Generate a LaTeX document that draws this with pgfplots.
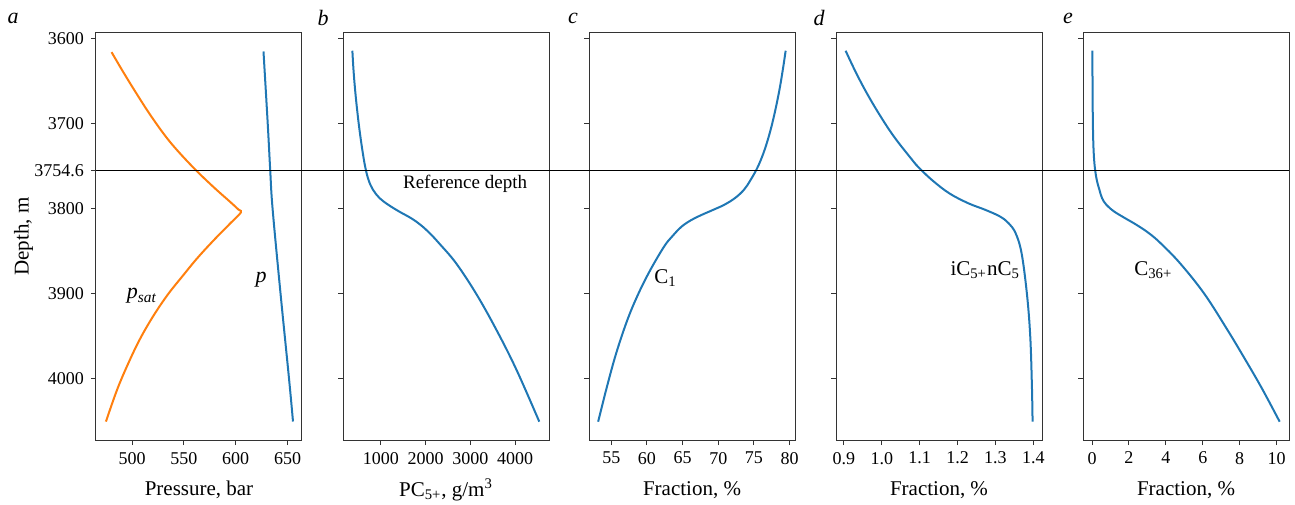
\documentclass[border=0pt]{standalone}
\usepackage{fontspec}
\setmainfont{Liberation Serif}
\usepackage{pgfplots}
\pgfplotsset{compat=1.18}
\definecolor{mblue}{HTML}{1F77B4}
\definecolor{morange}{HTML}{FF7F0E}
\pgfplotsset{
 panel/.style={
  scale only axis, width=103pt, height=203.5pt,
  y dir=reverse, ymin=3593.25, ymax=4071.75,
  axis line style={black!80, line width=0.5pt},
  tick align=outside, tick pos=left,
  major tick length=2.5pt,
  every tick/.style={black!80, line width=0.5pt},
  ytick={3600,3700,3800,3900,4000},
  yticklabels={},
  tick label style={font=\rmfamily\fontsize{9}{10}\selectfont},
  label style={font=\rmfamily\fontsize{10.5}{12}\selectfont},
  /pgf/number format/assume math mode=true,
  /pgf/number format/1000 sep={},
  scaled x ticks=false,
  xlabel style={at={(axis description cs:0.5,0)}, anchor=center, yshift=-25pt},
 },
 crv/.style={line width=1pt, mblue, smooth, tension=0.6, no marks},
}
\begin{document}
\begin{tikzpicture}
\path[use as bounding box] (0,0) rectangle (647.5pt,252pt);
% panel a
\begin{axis}[panel, at={(48pt,32pt)}, anchor=south west,
  xmin=465, xmax=664, xtick={500,550,600,650},
  ytick={3600,3700,3754.6,3800,3900,4000},
  yticklabels={3600,3700,3754.6,3800,3900,4000},
  xlabel={Pressure, bar}, ylabel={Depth, m},
  ylabel style={at={(axis description cs:-0.352,0.5)}, anchor=center}]
\addplot[crv, morange] coordinates {
(480.0,3615.7) (491.3,3639.1) (504.2,3664.6) (518.8,3692.0) (536.5,3721.3)
(558.4,3750.7) (578.4,3774.2) (594.6,3791.8) (602.6,3800.8) (604.9,3804.3)
(594.6,3817.2) (578.8,3836.8) (562.6,3858.3) (548.1,3879.8) (534.7,3900.2)
(520.9,3924.9) (507.8,3952.3) (496.2,3981.6) (485.3,4012.9) (474.6,4050.1)};
\addplot[crv] coordinates {
(626.8,3615) (630.9,3700) (633.3,3754.6) (635.6,3800) (643.3,3900) (651.5,4000) (655.3,4050)};
\coordinate (refL) at (axis cs:465,3754.6);
\node[font=\fontsize{11}{12}\selectfont] at (axis cs:509.4,3902.5) {\textit{p}\textsubscript{\textit{sat}}};
\node[font=\fontsize{11}{12}\selectfont] at (axis cs:624.5,3883.6) {\textit{p}};
\end{axis}
% panel b
\begin{axis}[panel, at={(171.5pt,32pt)}, anchor=south west,
  xmin=157, xmax=4754, xtick={1000,2000,3000,4000},
  xlabel={PC\textsubscript{5+}, g/m\textsuperscript{3}}]
\addplot[crv] coordinates {
(366,3614.1) (391,3636.5) (427,3660.0) (472,3683.5) (525,3707.1) (588,3730.6)
(651,3750.2) (726,3765.9) (827,3777.6) (976,3787.5) (1170,3795.3) (1409,3803.1)
(1678,3811.0) (1887,3818.8) (2092,3828.6) (2300,3840.4) (2680,3863.9) (3131,3900.0)
(3582,3942.4) (4030,3989.4) (4537,4050.2)};
\node[font=\fontsize{9.5}{11}\selectfont] at (axis cs:2881,3770) {Reference depth};
\end{axis}
% panel c
\begin{axis}[panel, at={(294.5pt,32pt)}, anchor=south west,
  xmin=51.87, xmax=80.75, xtick={55,60,65,70,75,80},
  xlabel={Fraction, \%}]
\addplot[crv] coordinates {
(79.44,3614.1) (79.04,3636.5) (78.57,3660.0) (78.00,3683.5) (77.33,3707.1)
(76.49,3730.6) (75.56,3750.2) (74.53,3765.9) (73.59,3777.6) (72.31,3787.5)
(70.81,3795.3) (69.27,3801.2) (67.66,3807.1) (66.26,3812.9) (64.86,3820.8)
(63.52,3832.5) (62.40,3844.3) (60.47,3871.8) (58.78,3900.0) (57.25,3930.6)
(55.68,3969.8) (54.39,4009.0) (53.15,4050.2)};
\node[font=\fontsize{10.5}{12}\selectfont] at (axis cs:62.6,3881) {C\textsubscript{1}};
\end{axis}
% panel d
\begin{axis}[panel, at={(418pt,32pt)}, anchor=south west,
  xmin=0.879, xmax=1.423, xtick={0.9,1.0,1.1,1.2,1.3,1.4},
  xticklabel style={/pgf/number format/.cd, fixed, fixed zerofill, precision=1},
  xlabel={Fraction, \%}]
\addplot[crv] coordinates {
(0.9044,3614.1) (0.9281,3636.5) (0.9554,3660.0) (0.9914,3687.5) (1.0318,3714.9)
(1.0801,3742.4) (1.0968,3751.0) (1.1319,3765.9) (1.1777,3781.6) (1.2277,3793.3)
(1.2735,3801.2) (1.3121,3809.0) (1.3348,3816.9) (1.3533,3828.6) (1.3691,3852.2)
(1.3832,3900.0) (1.3920,3950.2) (1.3964,4009.0) (1.3981,4050.2)};
\node[font=\fontsize{10.5}{12}\selectfont] at (axis cs:1.273,3872) {iC\textsubscript{5+}nC\textsubscript{5}};
\end{axis}
% panel e
\begin{axis}[panel, at={(541.5pt,32pt)}, anchor=south west,
  xmin=-0.49, xmax=10.67, xtick={0,2,4,6,8,10},
  xlabel={Fraction, \%}]
\addplot[crv] coordinates {
(0.018,3614.1) (0.027,3656.1) (0.045,3700.0) (0.082,3730.6) (0.145,3750.2)
(0.254,3765.9) (0.399,3777.6) (0.543,3787.5) (0.779,3795.3) (1.196,3803.1)
(1.793,3811.0) (2.409,3818.8) (3.080,3828.6) (3.714,3840.4) (4.764,3863.9)
(6.087,3900.0) (7.337,3942.4) (8.098,3969.8) (9.149,4009.0) (10.163,4050.2)};
\node[font=\fontsize{10.5}{12}\selectfont] at (axis cs:3.32,3872) {C\textsubscript{36+}};
\coordinate (refR) at (axis cs:10.67,3754.6);
\end{axis}
\draw[black, line width=0.5pt] (refL) -- (refR);
\node[font=\fontsize{11}{12}\selectfont\itshape] at (6.5pt,243pt) {a};
\node[font=\fontsize{11}{12}\selectfont\itshape] at (161.5pt,243pt) {b};
\node[font=\fontsize{11}{12}\selectfont\itshape] at (286.5pt,243pt) {c};
\node[font=\fontsize{11}{12}\selectfont\itshape] at (409.5pt,243pt) {d};
\node[font=\fontsize{11}{12}\selectfont\itshape] at (534pt,243pt) {e};
\end{tikzpicture}
\end{document}
